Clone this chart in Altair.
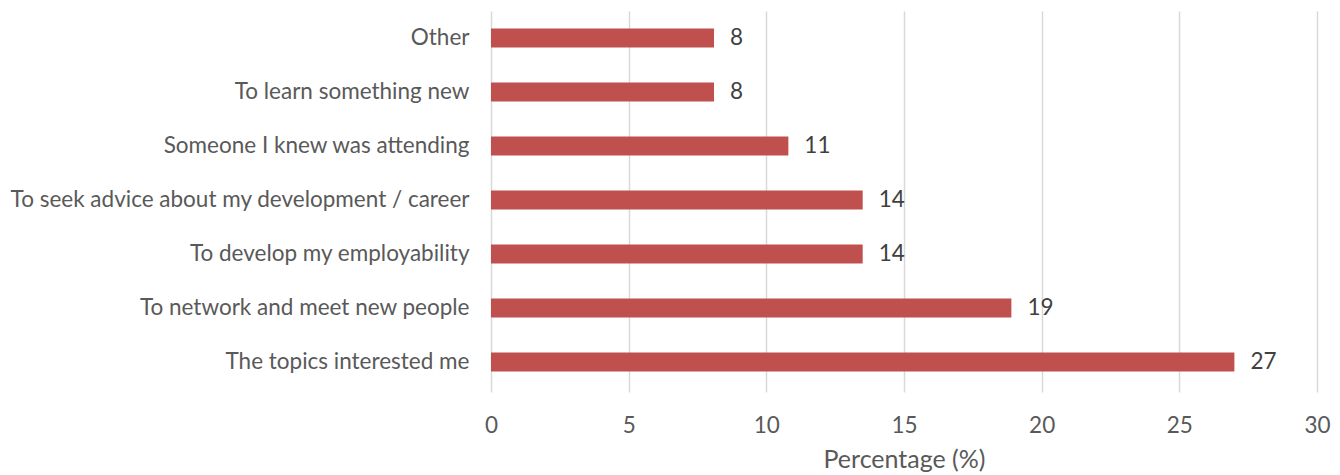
import altair as alt
import pandas as pd

categories = [
    "Other",
    "To learn something new",
    "Someone I knew was attending",
    "To seek advice about my development / career",
    "To develop my employability",
    "To network and meet new people",
    "The topics interested me",
]
values = [8.1, 8.1, 10.8, 13.5, 13.5, 18.9, 27.0]
labels = ["8", "8", "11", "14", "14", "19", "27"]

df = pd.DataFrame({"reason": categories, "pct": values, "label": labels})

FONT = "Lato"
FS = 22.5

y_enc = alt.Y("reason:N", sort=categories, title=None,
              scale=alt.Scale(paddingInner=0.65, paddingOuter=0.325),
              axis=alt.Axis(labelFontSize=FS, labelColor="#595959", labelFont=FONT,
                            labelPadding=22, ticks=False, domain=False, grid=False,
                            labelLimit=700))
x_enc = alt.X("pct:Q", title="Percentage (%)",
              scale=alt.Scale(domain=[0, 30], nice=False),
              axis=alt.Axis(values=[0, 5, 10, 15, 20, 25, 30], grid=True,
                            gridColor="#d9d9d9", gridWidth=1.5, domain=False,
                            ticks=True, tickColor="#d9d9d9", tickWidth=1.5, tickSize=3,
                            labelFontSize=FS, labelColor="#595959", labelFont=FONT,
                            labelFlush=False, labelPadding=22,
                            titleFontSize=25, titleColor="#595959",
                            titleFont=FONT, titleFontWeight="normal", titlePadding=11))

bars = alt.Chart(df).mark_bar(color="#C0504D").encode(x=x_enc, y=y_enc)
text = alt.Chart(df).mark_text(align="left", baseline="middle", dx=16, fontSize=FS,
                               font=FONT, color="#404040").encode(
    x="pct:Q", y=alt.Y("reason:N", sort=categories), text="label:N")

chart = (bars + text).properties(
    width=826, height=378,
    background="white",
    autosize=alt.AutoSizeParams(type="none"),
    padding={"left": 483, "top": 3, "right": 15, "bottom": 84},
).configure_view(stroke=None, strokeWidth=0)

chart.save("out.html", embed_options={"renderer": "svg", "actions": False})
